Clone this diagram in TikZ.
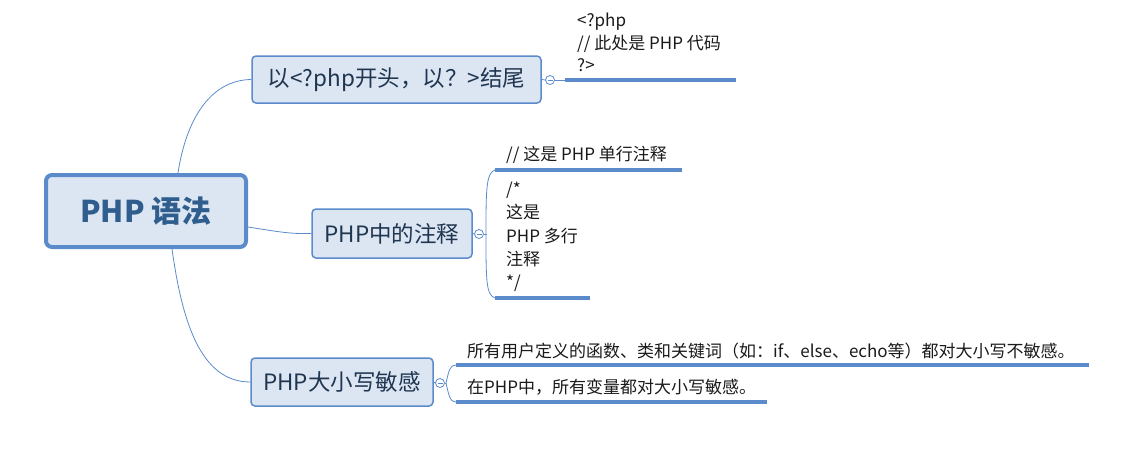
\documentclass[tikz,border=0pt]{standalone}
\usepackage{fontspec}
\setmainfont{Noto Sans CJK SC}
\usetikzlibrary{calc}
\definecolor{mblue}{HTML}{5B8BCB}
\definecolor{mfill}{HTML}{DCE6F2}
\definecolor{roottext}{HTML}{2F5E8E}
\definecolor{brtext}{HTML}{1F3550}
\definecolor{txt}{HTML}{1A1A1A}
\begin{document}
\begin{tikzpicture}[x=1pt,y=-1pt,
  rootbox/.style={draw=mblue, line width=4pt, fill=mfill, rounded corners=6pt, inner sep=0pt,
    minimum width=200pt, minimum height=72pt, font=\fontsize{30}{32}\selectfont\bfseries, text=roottext},
  brbox/.style={draw=mblue, line width=1.5pt, fill=mfill, rounded corners=4pt, inner sep=0pt,
    font=\fontsize{22.5}{24}\selectfont, text=brtext},
  tog/.style={circle, draw=mblue, fill=white, line width=0.8pt, inner sep=0pt, minimum size=9pt},
  conn/.style={draw=mblue, line width=0.8pt},
  uline/.style={draw=mblue, line width=3.2pt},
  leaf/.style={inner sep=0pt, text=txt, font=\fontsize{17}{22.5}\selectfont, align=left}
]
\useasboundingbox (0,0) rectangle (1139,456);

% root and branches
\node[rootbox] (root) at (146,211) {PHP 语法};
\node[brbox, minimum width=289pt, minimum height=47pt] (b1) at (396.5,79.5) {以<?php开头，以？>结尾};
\node[brbox, minimum width=160pt, minimum height=49pt] (b2) at (392,233.5) {PHP中的注释};
\node[brbox, minimum width=182pt, minimum height=48pt] (b3) at (342,382) {PHP大小写敏感};

% root connectors
\coordinate (r1) at (178,173);
\coordinate (r2) at (248,227);
\coordinate (r3) at (172,249);
\draw[conn] (r1) .. controls (186,120) and (210,80) .. (b1.west);
\draw[conn] (r2) .. controls (280,232) and (290,234) .. (b2.west);
\draw[conn] (r3) .. controls (182,320) and (200,382) .. (b3.west);

% branch 1
\node[tog] (t1) at (550,80) {};
\draw[mblue, line width=0.8pt] ($(t1.center)+(-2.5,0)$) -- ($(t1.center)+(2.5,0)$);
\coordinate (u1a) at (565,80);
\coordinate (u1b) at (736,80);
\draw[conn] (b1.east) -- (t1.west);
\draw[conn] (t1.east) -- (u1a);
\draw[uline] (u1a) -- (u1b);
\node[leaf, anchor=south west] (l1) at (577,72) {<?php\\// 此处是 PHP 代码\\?>};

% branch 2
\node[tog] (t2) at (479,234) {};
\draw[mblue, line width=0.8pt] ($(t2.center)+(-2.5,0)$) -- ($(t2.center)+(2.5,0)$);
\draw[conn] (b2.east) -- (t2.west);
\coordinate (m2) at (487,234);
\coordinate (u2a) at (495,170);
\coordinate (u2b) at (682,170);
\coordinate (u2c) at (495,298);
\coordinate (u2d) at (590,298);
\draw[conn] (t2.east) -- (m2);
\draw[conn] (u2a) .. controls (486,173) and (486,190) .. (486,234) .. controls (486,280) and (486,295) .. (u2c);
\draw[uline] (u2a) -- (u2b);
\draw[uline] (u2c) -- (u2d);
\node[leaf, anchor=south west] (l2) at (506,164) {// 这是 PHP 单行注释};
\node[leaf, anchor=south west, font=\fontsize{17}{23.3}\selectfont] (l3) at (506,292) {/*\\这是\\PHP 多行\\注释\\*/};

% branch 3
\node[tog] (t3) at (440,383) {};
\draw[mblue, line width=0.8pt] ($(t3.center)+(-2.5,0)$) -- ($(t3.center)+(2.5,0)$);
\draw[conn] (b3.east) -- (t3.west);
\coordinate (m3) at (446,383);
\coordinate (u3a) at (456,365);
\coordinate (u3b) at (1089,365);
\coordinate (u3c) at (456,402);
\coordinate (u3d) at (767,402);
\draw[conn] (t3.east) -- (m3);
\draw[conn] (m3) .. controls (449,370) and (450,365) .. (u3a);
\draw[conn] (m3) .. controls (449,396) and (450,402) .. (u3c);
\draw[uline] (u3a) -- (u3b);
\draw[uline] (u3c) -- (u3d);
\node[leaf, anchor=south west] (l4) at (467,359) {所有用户定义的函数、类和关键词（如：if、else、echo等）都对大小写不敏感。};
\node[leaf, anchor=south west] (l5) at (467,396) {在PHP中，所有变量都对大小写敏感。};
\end{tikzpicture}
\end{document}
